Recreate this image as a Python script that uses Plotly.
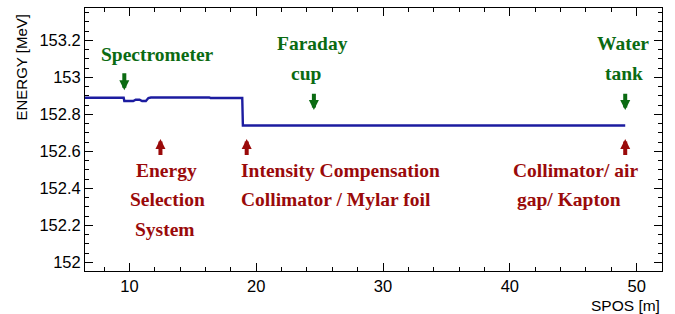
import plotly.graph_objects as go

# Beam energy along the beamline
spos = [6.0, 9.55, 9.6, 10.3, 10.5, 10.8, 11.0, 11.3, 11.5, 11.7, 16.3, 16.4, 18.9, 18.95, 49.1]
energy = [152.89, 152.89, 152.872, 152.872, 152.879, 152.879, 152.872, 152.872, 152.888, 152.891, 152.891, 152.888, 152.888, 152.74, 152.74]

x_ticks = [10, 20, 30, 40, 50]
y_ticks = [152, 152.2, 152.4, 152.6, 152.8, 153, 153.2]
y_tick_text = ["152", "152.2", "152.4", "152.6", "152.8", "153", "153.2"]

# Components (green, arrows pointing down onto the line)
green_pos = [9.6, 24.55, 49.1]
green_tip = [152.93, 152.823, 152.823]
green_tail = [153.03, 152.92, 152.92]
green_labels = [
    (12.23, 153.126, "Spectrometer"),
    (24.4, 153.185, "Faraday"),
    (24.0, 153.023, "cup"),
    (48.9, 153.185, "Water"),
    (49.0, 153.023, "tank"),
]

# Materials (red, arrows pointing up toward the line)
red_pos = [12.45, 19.25, 49.1]
red_tip = [152.667, 152.667, 152.667]
red_tail = [152.572, 152.572, 152.572]
red_labels = [
    (12.95, 152.495, "Energy", "center"),
    (13.03, 152.337, "Selection", "center"),
    (12.8, 152.18, "System", "center"),
    (18.63, 152.495, "Intensity Compensation", "left"),
    (18.63, 152.337, "Collimator / Mylar foil", "left"),
    (45.2, 152.495, "Collimator/ air", "center"),
    (44.7, 152.337, "gap/ Kapton", "center"),
]

GREEN = "#0b6b12"
RED = "#9a0a0a"
LINE = "#1c1ca0"

fig = go.Figure()
fig.add_trace(go.Scatter(x=spos, y=energy, mode="lines",
                         line=dict(color=LINE, width=2.4), hoverinfo="skip"))

ann = []
serif = dict(family="Liberation Serif", size=19.5)
for x, y, t in green_labels:
    ann.append(dict(x=x, y=y, text="<b>%s</b>" % t, showarrow=False,
                    font=dict(**serif, color=GREEN), xanchor="center", yanchor="middle"))
for x, y, t, a in red_labels:
    ann.append(dict(x=x, y=y, text="<b>%s</b>" % t, showarrow=False,
                    font=dict(**serif, color=RED), xanchor=a, yanchor="middle"))
for p, tip, tail in zip(green_pos, green_tip, green_tail):
    ann.append(dict(x=p, y=tip, ax=p, ay=tail, axref="x", ayref="y", text="",
                    showarrow=True, arrowhead=2, arrowsize=0.5, arrowwidth=4,
                    arrowcolor=GREEN))
for p, tip, tail in zip(red_pos, red_tip, red_tail):
    ann.append(dict(x=p, y=tip, ax=p, ay=tail, axref="x", ayref="y", text="",
                    showarrow=True, arrowhead=2, arrowsize=0.5, arrowwidth=4,
                    arrowcolor=RED))

# Axis titles (ROOT style: at the end of the axes)
ann.append(dict(xref="paper", yref="paper", x=1.0, y=-0.09, text="SPOS [m]",
                showarrow=False, xanchor="right", yanchor="top",
                font=dict(family="Liberation Sans", size=15.5, color="black")))
ann.append(dict(xref="paper", yref="paper", x=-0.11, y=0.981, text="ENERGY [MeV]",
                showarrow=False, xanchor="center", yanchor="top", textangle=-90,
                font=dict(family="Liberation Sans", size=15, color="black")))

axis_common = dict(showgrid=False, zeroline=False, showline=True, linecolor="black",
                   linewidth=1, mirror="allticks", ticks="inside", tickcolor="black",
                   ticklen=8, tickwidth=1,
                   tickfont=dict(family="Liberation Sans", size=16.5, color="black"))

fig.update_layout(
    width=675, height=314,
    margin=dict(l=85, r=13, t=8, b=43),
    paper_bgcolor="white", plot_bgcolor="white",
    showlegend=False,
    annotations=ann,
    xaxis=dict(range=[6.5, 52.0], tickvals=x_ticks,
               minor=dict(dtick=2, ticklen=4, ticks="inside", tickcolor="black", showgrid=False),
               **axis_common),
    yaxis=dict(range=[151.953, 153.375], tickvals=y_ticks, ticktext=y_tick_text,
               minor=dict(dtick=0.05, tick0=152, ticklen=4, ticks="inside", tickcolor="black", showgrid=False),
               **axis_common),
)

fig.write_html("out.html", config={"displayModeBar": False},
               post_script="document.body.style.margin='0';")
